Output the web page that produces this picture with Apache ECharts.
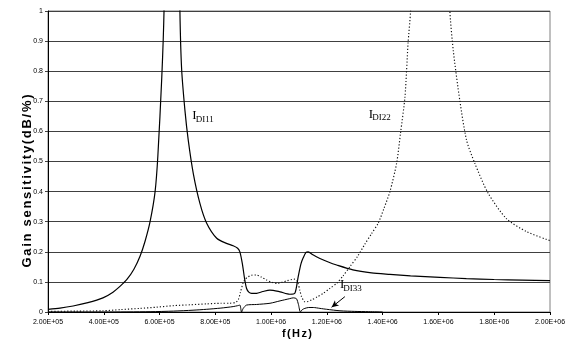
<!DOCTYPE html>
<html><head><meta charset="utf-8">
<script src="https://cdn.jsdelivr.net/npm/echarts@6/dist/echarts.min.js"></script>
<style>html,body{margin:0;padding:0;background:#fff}#c{width:573px;height:342px}</style>
</head><body><div id="c"></div>
<script>
// ---- data ----
const freqDI11 = [2.0e5,2.43e5,2.9e5,3.43e5,3.97e5,4.33e5,4.58e5,4.83e5,5.08e5,5.30e5,5.48e5,5.66e5,5.84e5,5.94e5,6.08e5,6.16e5,6.30e5,6.45e5,6.60e5,6.73e5,6.79e5,6.91e5,7.03e5,7.21e5,7.45e5,7.69e5,8.05e5,8.40e5,8.64e5,8.80e5,8.88e5,8.97e5,9.05e5,9.12e5,9.20e5,9.30e5,9.48e5,9.70e5,9.96e5,1.032e6,1.067e6,1.085e6,1.097e6,1.107e6,1.115e6,1.125e6,1.133e6,1.150e6,1.175e6,1.205e6,1.235e6,1.293e6,1.36e6,1.426e6,1.5e6,1.605e6,1.7e6,1.8e6,1.9e6,2.0e6];
const valDI11  = [0.009,0.013,0.02,0.031,0.047,0.066,0.085,0.108,0.142,0.185,0.235,0.3,0.4,0.52,0.78,1.0,1.8,3.0,1.8,1.0,0.81,0.67,0.57,0.46,0.36,0.295,0.245,0.228,0.22,0.212,0.2,0.16,0.11,0.078,0.066,0.062,0.062,0.068,0.073,0.067,0.059,0.062,0.117,0.16,0.18,0.198,0.2,0.19,0.178,0.166,0.156,0.14,0.13,0.125,0.12,0.115,0.111,0.108,0.106,0.104];

const freqDI22 = [2.0e5,3.0e5,3.97e5,4.6e5,5.30e5,5.9e5,6.49e5,7.1e5,7.69e5,8.2e5,8.52e5,8.72e5,8.82e5,8.90e5,8.99e5,9.08e5,9.18e5,9.30e5,9.48e5,9.65e5,9.84e5,1.002e6,1.022e6,1.04e6,1.058e6,1.075e6,1.085e6,1.092e6,1.097e6,1.103e6,1.109e6,1.115e6,1.121e6,1.132e6,1.145e6,1.165e6,1.187e6,1.21e6,1.235e6,1.258e6,1.282e6,1.31e6,1.336e6,1.36e6,1.384e6,1.405e6,1.426e6,1.45e6,1.464e6,1.48e6,1.491e6,1.5e6,1.52e6,1.57e6,1.62e6,1.641e6,1.653e6,1.677e6,1.701e6,1.73e6,1.778e6,1.844e6,1.916e6,2.0e6];
const valDI22  = [0.002,0.003,0.004,0.008,0.012,0.016,0.021,0.024,0.027,0.029,0.029,0.032,0.04,0.065,0.095,0.11,0.117,0.122,0.123,0.116,0.106,0.099,0.095,0.099,0.104,0.108,0.109,0.105,0.095,0.072,0.051,0.04,0.034,0.035,0.04,0.05,0.062,0.078,0.095,0.12,0.15,0.185,0.225,0.26,0.295,0.345,0.40,0.494,0.594,0.715,0.893,1.0,1.5,3.0,1.5,1.0,0.87,0.70,0.57,0.495,0.395,0.31,0.267,0.237];

const freqDI33 = [2.0e5,4.0e5,5.66e5,6.5e5,7.2e5,7.69e5,8.2e5,8.64e5,8.80e5,8.88e5,8.94e5,9.0e5,9.12e5,9.48e5,9.96e5,1.032e6,1.065e6,1.079e6,1.091e6,1.098e6,1.105e6,1.112e6,1.121e6,1.135e6,1.151e6,1.175e6,1.199e6,1.247e6,1.3e6,1.35e6,1.4e6];
const valDI33  = [0.0,0.0,0.001,0.003,0.006,0.009,0.013,0.018,0.021,0.023,0.0,0.012,0.023,0.025,0.029,0.037,0.044,0.047,0.044,0.025,0.0,0.008,0.012,0.015,0.015,0.012,0.009,0.004,0.002,0.001,0.0];

const xTickMin = 2e5, xTickMax = 2e6, xTickStep = 2e5;
const yTickMin = 0, yTickMax = 1, yTickStep = 0.1;

const xTitle = 'f(Hz)';
const yTitle = 'Gain sensitivity(dB/%)';
const seriesNames = ['DI11', 'DI22', 'DI33'];
// annotation anchors (data coordinates) and arrow (data coordinates)
const labelAnchorX = [7.172e5, 1.3505e6, 1.2466e6];
const labelAnchorY = [0.652, 0.657, 0.0897];
const arrowFrom = [1.2645e6, 0.051];
const arrowTo = [1.2168e6, 0.0156];

// ---- chart ----
function zip(xs, ys){ return xs.map((x,i)=>[x, ys[i]]); }
function sci(v){
  const e = Math.floor(Math.log10(v) + 1e-9);
  const m = v / Math.pow(10, e);
  return m.toFixed(2) + 'E+' + String(e).padStart(2, '0');
}
function spaced(str){ return str.split('').map(ch => '{c|' + ch + '}').join(''); }

const chart = echarts.init(document.getElementById('c'), null, {renderer:'canvas'});
const baseFont = 'Liberation Sans, Arial, sans-serif';
const serif = 'Liberation Serif, Times New Roman, serif';

const lineCommon = {type:'line', showSymbol:false, symbol:'none', clip:true, smooth:0.25, animation:false, silent:true};

const option = {
  animation:false,
  backgroundColor:'#fff',
  grid:{left:48, right:23, top:11, bottom:30, show:true, borderColor:'#808080', borderWidth:1, backgroundColor:'transparent'},
  xAxis:{
    type:'value', min:xTickMin, max:xTickMax, interval:xTickStep,
    axisLine:{show:true, onZero:false, lineStyle:{color:'#000', width:1}},
    axisTick:{show:true, length:3, lineStyle:{color:'#000'}},
    splitLine:{show:false},
    axisLabel:{fontSize:7, color:'#000', fontFamily:baseFont, margin:7, formatter:v=>sci(v)}
  },
  yAxis:{
    type:'value', min:yTickMin, max:yTickMax, interval:yTickStep,
    axisLine:{show:true, lineStyle:{color:'#000', width:1}},
    axisTick:{show:true, length:3, lineStyle:{color:'#404040'}},
    splitLine:{show:true, lineStyle:{color:'#404040', width:1}},
    axisLabel:{fontSize:7, color:'#000', fontFamily:baseFont, margin:5, formatter:v=>String(+v.toFixed(1))}
  },
  series:[
    Object.assign({}, lineCommon, {name:'I'+seriesNames[0], data:zip(freqDI11, valDI11), lineStyle:{color:'#000', width:1.2}}),
    Object.assign({}, lineCommon, {name:'I'+seriesNames[1], data:zip(freqDI22, valDI22), lineStyle:{color:'#111', width:1.15, type:[1.2,2]}}),
    Object.assign({}, lineCommon, {name:'I'+seriesNames[2], data:zip(freqDI33, valDI33), lineStyle:{color:'#000', width:1},
      markLine:{silent:true, animation:false, symbol:['none','arrow'], symbolSize:[5,7],
        lineStyle:{color:'#000', width:1, type:'solid'}, label:{show:false},
        data:[[{coord:arrowFrom}, {coord:arrowTo}]]}})
  ]
};
chart.setOption(option);

const graphics = [];
seriesNames.forEach((nm, i) => {
  const p = chart.convertToPixel({gridIndex:0}, [labelAnchorX[i], labelAnchorY[i]]);
  graphics.push({type:'text', x:p[0], y:p[1], silent:true,
    style:{text:'I', fontSize:13, fontFamily:serif, fill:'#000', align:'left', verticalAlign:'middle'}});
  graphics.push({type:'text', x:p[0]+3.4, y:p[1]+3.6, silent:true,
    style:{text:nm, fontSize:9, fontFamily:serif, fill:'#000', align:'left', verticalAlign:'middle'}});
});
graphics.push({type:'text', x:297, y:334, silent:true,
  style:{text:spaced(xTitle), align:'center', verticalAlign:'middle', fill:'#000',
    rich:{c:{fontSize:11, fontWeight:'bold', fontFamily:baseFont, fill:'#000', padding:[0,0.7,0,0.7]}}}});
graphics.push({type:'text', x:27, y:181, rotation:Math.PI/2, silent:true,
  style:{text:spaced(yTitle), align:'center', verticalAlign:'middle', fill:'#000',
    rich:{c:{fontSize:13, fontWeight:'bold', fontFamily:baseFont, fill:'#000', padding:[0,0.85,0,0.85]}}}});
chart.setOption({graphic:graphics});
</script>
</body></html>
